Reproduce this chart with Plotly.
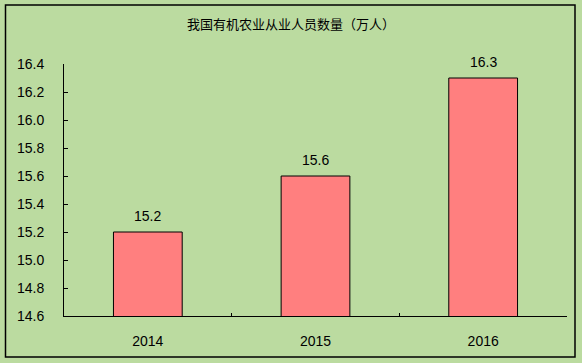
import plotly.graph_objects as go

years = ["2014", "2015", "2016"]
values = [15.2, 15.6, 16.3]
labels = ["15.2", "15.6", "16.3"]
title_text = "我国有机农业从业人员数量（万人）"

bg = "#BBDBA0"
font_family = "Arial, Liberation Sans, sans-serif"

fig = go.Figure()
fig.add_trace(go.Bar(
    x=years, y=values,
    marker=dict(color="#FF7F7F", line=dict(color="#000000", width=1)),
    width=0.41, hoverinfo="skip",
))

for i, (v, lab) in enumerate(zip(values, labels)):
    fig.add_annotation(x=i, y=v, text=lab, showarrow=False, yanchor="bottom",
                       yshift=6, font=dict(size=14, color="#000000", family=font_family))

fig.update_layout(
    width=582, height=363,
    paper_bgcolor=bg, plot_bgcolor=bg,
    margin=dict(l=64, r=15, t=64, b=47),
    showlegend=False,
    title=dict(text=title_text, x=0.5, xanchor="center", y=0.934, yanchor="middle",
               font=dict(size=13, color="#000000", family="Noto Sans CJK SC")),
    font=dict(family=font_family, size=14, color="#000000"),
)
fig.update_xaxes(
    type="category", range=[-0.5, 2.5], showline=True, linecolor="#000000", linewidth=1,
    ticks="inside", ticklen=3, tickcolor="#000000", tickson="boundaries",
    showgrid=False, ticklabelstandoff=12, automargin=False,
    tickfont=dict(size=14, family=font_family, color="#000000"),
)
fig.update_yaxes(
    range=[14.6, 16.4], dtick=0.2, tick0=14.6, tickformat=".1f",
    showline=True, linecolor="#000000", linewidth=1,
    ticks="inside", ticklen=4, tickcolor="#000000",
    showgrid=False, zeroline=False, ticklabelstandoff=16, automargin=False,
    tickfont=dict(size=14, family=font_family, color="#000000"),
)
fig.add_shape(type="rect", xref="paper", yref="paper",
              x0=-0.1163, x1=1.0159, y0=-0.1627, y1=1.234,
              line=dict(color="#000000", width=1.5), fillcolor="rgba(0,0,0,0)", layer="above")

fig.write_html("out.html", config={"displayModeBar": False},
               post_script="document.body.style.margin='0';document.body.style.overflow='hidden';")
